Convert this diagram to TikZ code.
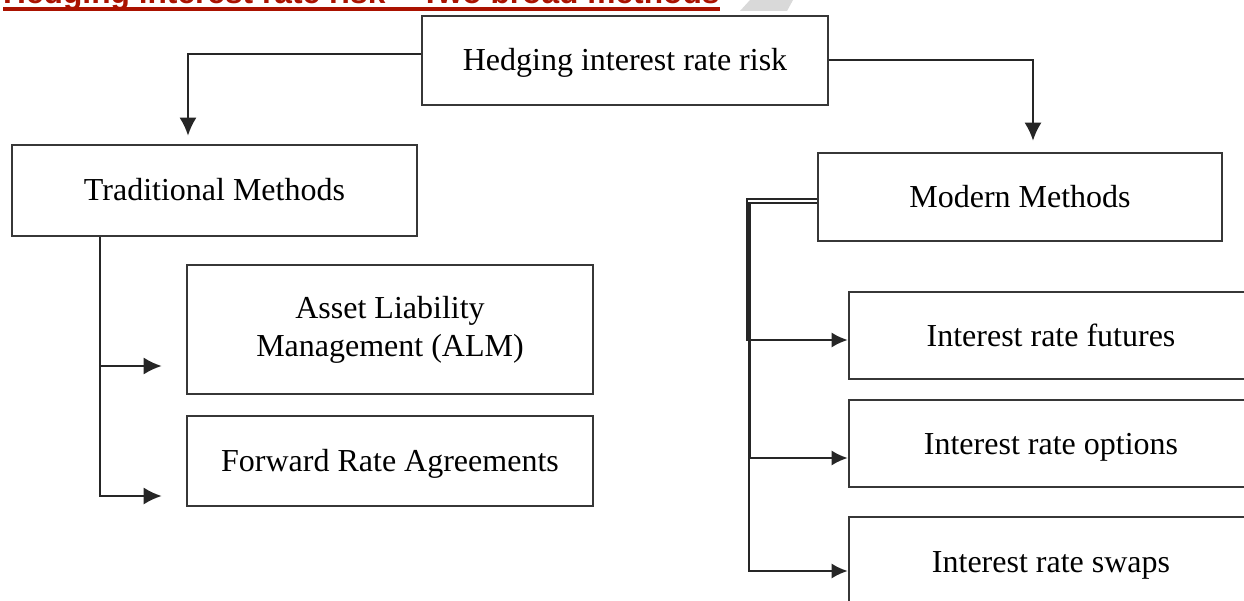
\documentclass[tikz,border=0pt]{standalone}
\usepackage{fontspec}
\setmainfont{Liberation Serif}
\newfontfamily\titlefont{Liberation Sans}
\usetikzlibrary{arrows.meta}

\definecolor{titlered}{RGB}{170,18,0}
\definecolor{boxline}{RGB}{55,55,55}
\definecolor{tabgrey}{RGB}{217,217,217}

\tikzset{
  methodbox/.style={draw=boxline, line width=2.6pt, inner sep=0pt, align=center,
    font=\fontsize{32}{38}\selectfont},
  onebox/.style={methodbox, text height=21pt, text depth=0pt},
  link/.style={line width=2pt, draw=black!85, -{Latex[length=18pt,width=17pt]}},
  sidelink/.style={line width=2pt, draw=black!85, -{Latex[length=16pt,width=15pt]}},
}

\begin{document}
\begin{tikzpicture}[x=1pt,y=-1pt]
    \useasboundingbox (0,0) rectangle (1244,601);
    \clip (0,0) rectangle (1244,601);
    \fill[white] (0,0) rectangle (1244,601);

    % heading, cut off at the top edge
    \node[anchor=base west, inner sep=0pt, text=titlered,
          font=\titlefont\bfseries\fontsize{31.7}{36}\selectfont] (title) at (3,4)
          {Hedging interest rate risk – Two broad methods};
    \draw[titlered, line width=4.5pt] (title.base west |- 0,9.2) -- (title.base east |- 0,9.2);
    \fill[tabgrey] (740,11) -- (750,0) -- (793,0) -- (787,11) -- cycle;

    \node[onebox, minimum width=406, minimum height=89] (hedge) at (625,60.5) {Hedging interest rate risk};

    \node[onebox, minimum width=405, minimum height=91] (trad) at (214.5,190.5) {Traditional Methods};
    \node[onebox, minimum width=404, minimum height=88] (modern) at (1020,197) {Modern Methods};

    \node[methodbox, minimum width=406, minimum height=129] (alm) at (390,329.5) {Asset Liability\\Management (ALM)};
    \node[onebox, minimum width=406, minimum height=90] (fra) at (390,461) {Forward Rate Agreements};

    \node[onebox, minimum width=404, minimum height=87] (futures) at (1051,335.5) {Interest rate futures};
    \node[onebox, minimum width=404, minimum height=87] (options) at (1051,443.5) {Interest rate options};
    \node[onebox, minimum width=404, minimum height=89] (swaps) at (1051,561.5) {Interest rate swaps};

    % from the top box to the two groups
    \draw[link, shorten >=8pt] (hedge.west |- 0,54) -| (trad.north -| 188,0);
    \draw[link, shorten >=11pt] (hedge.east |- 0,60) -| (modern.north -| 1033,0);

    % traditional branch
    \draw[link, shorten >=24pt] (trad.south -| 100,0) |- (alm.west |- 0,366);
    \draw[link, shorten >=24pt] (trad.south -| 100,0) |- (fra.west |- 0,496);

    % modern branch
    \draw[sidelink] (modern.west |- 0,199) -- (747,199) |- (futures.west |- 0,340);
    \draw[sidelink] (modern.west |- 0,203) -- (750,203) |- (options.west |- 0,458);
    \draw[sidelink] (modern.west |- 0,203) -- (749,203) |- (swaps.west |- 0,571);
\end{tikzpicture}
\end{document}
